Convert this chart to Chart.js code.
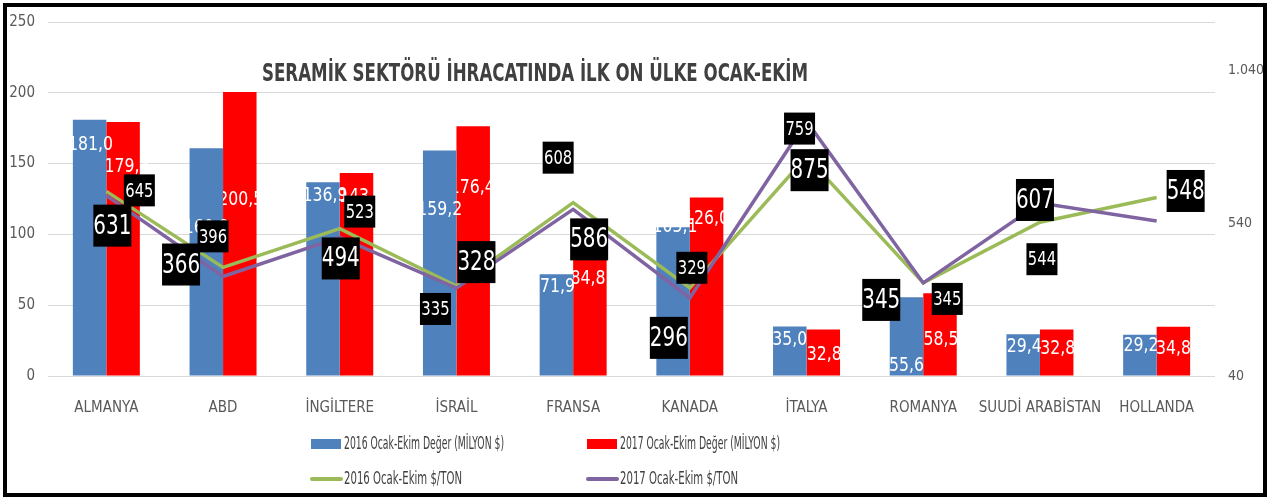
<!DOCTYPE html>
<html lang="tr">
<head>
<meta charset="UTF-8">
<title>Seramik Sektörü İhracatı</title>
<script src="https://cdn.jsdelivr.net/npm/chart.js"></script>
<style>
    html, body { margin: 0; padding: 0; background: #FFFFFF; }
    .chart-wrapper { position: relative; width: 1270px; height: 501px; }
</style>
</head>
<body>
<div class="chart-wrapper">
    <canvas id="seramikChart"></canvas>
</div>
<script>
    const categories = ['ALMANYA', 'ABD', 'İNGİLTERE', 'İSRAİL', 'FRANSA', 'KANADA', 'İTALYA', 'ROMANYA', 'SUUDİ ARABİSTAN', 'HOLLANDA'];
    const value2016 = [181.0, 160.8, 136.9, 159.2, 71.9, 105.1, 35.0, 55.6, 29.4, 29.2];
    const value2017 = [179.3, 200.5, 143.4, 176.4, 84.8, 126.0, 32.8, 58.5, 32.8, 34.8];
    const perTon2016 = [645, 396, 523, 335, 608, 329, 759, 345, 544, 625];
    const perTon2017 = [631, 366, 494, 328, 586, 296, 875, 345, 607, 548];
    const leftTicks = [0, 50, 100, 150, 200, 250];
    const rightTicks = [40, 540, 1040];

    // label nudges (px) as they were dragged around in the original sheet
    const barLabelShift2016 = [[1, 25], [0, 80], [2, 14], [0, 59], [1, 13], [2, 0], [0, 14], [0, 69], [1, 13], [1, 11]];
    const barLabelShift2017 = [[4, 45], [1, 108], [5, 24], [-1, 62], [-2, 23], [0, 21], [1, 26], [1, 47], [1, 20], [0, 22]];
    const lineLabelShift2016 = [[33, -1], [-10, -31], [20, -17], [-21, 23], [-15, -45], [2, -20], [-7, -28], [24, 16], [2, 37], null];
    const lineLabelShift2017 = [[6, 30], [-42, -12], [1, 21], [20, -26], [16, 30], [-21, 40], [3, 49], [-42, 17], [-5, -3], [29, -30]];

    const NARROW = '"Liberation Sans Narrow", "DejaVu Sans Condensed", "Roboto Condensed", sans-serif';
    const GREY_TEXT = '#595959';

    const fmtComma = v => v.toFixed(1).replace('.', ',');
    const fmtThousand = v => String(v).replace(/\B(?=(\d{3})+(?!\d))/g, '.');

    function drawSquashed(ctx, text, x, y, sx) {
        ctx.save();
        ctx.translate(x, y);
        ctx.scale(sx, 1);
        ctx.fillText(text, 0, 0);
        ctx.restore();
    }

    const decorPlugin = {
        id: 'decor',
        afterDatasetDraw(chart, args) {
            const ds = chart.data.datasets[args.index];
            if (ds.type !== 'bar') return;
            const ctx = chart.ctx;
            const meta = chart.getDatasetMeta(args.index);
            const shifts = args.index === 0 ? barLabelShift2016 : barLabelShift2017;
            ctx.save();
            ctx.fillStyle = '#FFFFFF';
            ctx.font = '19px ' + NARROW;
            ctx.textAlign = 'center';
            ctx.textBaseline = 'middle';
            meta.data.forEach((bar, i) => {
                const s = shifts[i];
                drawSquashed(ctx, fmtComma(ds.data[i]), bar.x + s[0], bar.y + s[1], 0.92);
            });
            ctx.restore();
        },
        afterDatasetsDraw(chart) {
            const ctx = chart.ctx;
            const sets = [
                { idx: 2, shifts: lineLabelShift2016, w: 31, h: 32, font: 20 },
                { idx: 3, shifts: lineLabelShift2017, w: 38, h: 42, font: 27 }
            ];
            ctx.save();
            ctx.textAlign = 'center';
            ctx.textBaseline = 'middle';
            sets.forEach(set => {
                const meta = chart.getDatasetMeta(set.idx);
                const data = chart.data.datasets[set.idx].data;
                meta.data.forEach((pt, i) => {
                    const s = set.shifts[i];
                    if (!s) return;
                    const cx = pt.x + s[0], cy = pt.y + s[1];
                    ctx.fillStyle = '#000000';
                    ctx.fillRect(cx - set.w / 2, cy - set.h / 2, set.w, set.h);
                    ctx.fillStyle = '#FFFFFF';
                    ctx.font = set.font + 'px ' + NARROW;
                    drawSquashed(ctx, String(data[i]), cx, cy + 1, 0.82);
                });
            });
            ctx.restore();
        },
        afterDraw(chart) {
            const ctx = chart.ctx;
            ctx.save();
            // title sits inside the plot
            ctx.fillStyle = '#404040';
            ctx.font = 'bold 24px ' + NARROW;
            ctx.textAlign = 'center';
            ctx.textBaseline = 'middle';
            ctx.fillText('SERAMİK SEKTÖRÜ İHRACATINDA İLK ON ÜLKE OCAK-EKİM', 535, 75, 546);

            // legend, two columns
            const cols = [311, 587];
            const rows = [444, 479];
            ctx.textAlign = 'left';
            ctx.font = '18px ' + NARROW;
            chart.data.datasets.forEach((d, i) => {
                const x = cols[i % 2], y = rows[Math.floor(i / 2)];
                if (d.type === 'bar') {
                    ctx.fillStyle = d.backgroundColor;
                    ctx.fillRect(x, y - 5, 30, 10);
                } else {
                    ctx.strokeStyle = d.borderColor;
                    ctx.lineWidth = 4;
                    ctx.lineCap = 'round';
                    ctx.beginPath();
                    ctx.moveTo(x + 1, y);
                    ctx.lineTo(x + 30, y);
                    ctx.stroke();
                }
                ctx.fillStyle = '#404040';
                ctx.fillText(d.label, x + 33, y, d.type === 'bar' ? 160 : 118);
            });

            // frame round the whole chart
            ctx.strokeStyle = '#000000';
            ctx.lineWidth = 4;
            ctx.strokeRect(5, 5, 1260, 490);
            ctx.restore();
        }
    };

    const ctx = document.getElementById('seramikChart').getContext('2d');
    new Chart(ctx, {
        data: {
            labels: categories,
            datasets: [
                {
                    type: 'bar',
                    label: '2016 Ocak-Ekim Değer (MİLYON $)',
                    data: value2016,
                    backgroundColor: '#4F81BD',
                    yAxisID: 'y',
                    order: 2,
                    categoryPercentage: 0.574,
                    barPercentage: 1.0
                },
                {
                    type: 'bar',
                    label: '2017 Ocak-Ekim Değer (MİLYON $)',
                    data: value2017,
                    backgroundColor: '#FF0000',
                    yAxisID: 'y',
                    order: 2,
                    categoryPercentage: 0.574,
                    barPercentage: 1.0
                },
                {
                    type: 'line',
                    label: '2016 Ocak-Ekim $/TON',
                    data: perTon2016,
                    borderColor: '#9BBB59',
                    borderWidth: 3.5,
                    pointRadius: 0,
                    tension: 0,
                    yAxisID: 'y2',
                    order: 1
                },
                {
                    type: 'line',
                    label: '2017 Ocak-Ekim $/TON',
                    data: perTon2017,
                    borderColor: '#8064A2',
                    borderWidth: 3.5,
                    pointRadius: 0,
                    tension: 0,
                    yAxisID: 'y2',
                    order: 0
                }
            ]
        },
        options: {
            responsive: true,
            maintainAspectRatio: false,
            animation: false,
            layout: { padding: { top: 20, left: 0, right: 0, bottom: 0 } },
            plugins: {
                legend: { display: false },
                tooltip: { enabled: false }
            },
            scales: {
                x: {
                    grid: { display: false },
                    border: { display: false },
                    ticks: {
                        color: GREY_TEXT,
                        font: { family: NARROW, size: 15 },
                        padding: 15,
                        maxRotation: 0,
                        autoSkip: false
                    },
                    afterFit: scale => { scale.height = 125; }
                },
                y: {
                    position: 'left',
                    min: 0,
                    max: 250,
                    afterBuildTicks: scale => { scale.ticks = leftTicks.map(v => ({ value: v })); },
                    grid: { color: '#D9D9D9', lineWidth: 1, drawTicks: false },
                    border: { display: false },
                    ticks: {
                        color: GREY_TEXT,
                        font: { family: NARROW, size: 15 },
                        padding: 13
                    },
                    afterFit: scale => { scale.width = 48; }
                },
                y2: {
                    position: 'right',
                    min: 40,
                    max: 1200,
                    afterBuildTicks: scale => { scale.ticks = rightTicks.map(v => ({ value: v })); },
                    grid: { display: false, drawTicks: false },
                    border: { display: false },
                    ticks: {
                        color: GREY_TEXT,
                        font: { family: NARROW, size: 14 },
                        padding: 13,
                        callback: v => fmtThousand(v)
                    },
                    afterFit: scale => { scale.width = 55; }
                }
            }
        },
        plugins: [decorPlugin]
    });
</script>
</body>
</html>
